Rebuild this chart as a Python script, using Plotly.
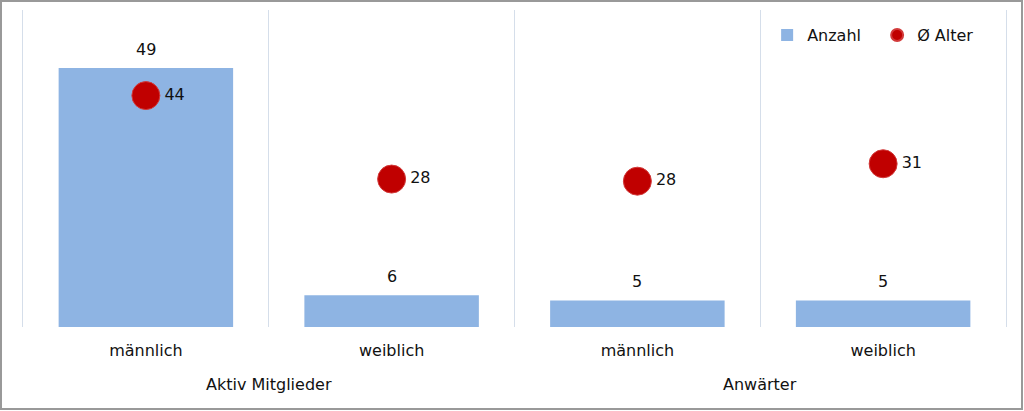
import plotly.graph_objects as go

groups = ["Aktiv Mitglieder", "Aktiv Mitglieder", "Anwärter", "Anwärter"]
categories = ["männlich", "weiblich", "männlich", "weiblich"]
anzahl = [49, 6, 5, 5]
alter = [43.8, 28.0, 27.6, 30.9]

FONT = "DejaVu Sans"
W, H = 1024, 411
ML, MR, MT, MB = 23, 18, 10, 84
PW, PH = W - ML - MR, H - MT - MB
GRID = "#D5DEEA"

keys = [f"{g} / {c}" for g, c in zip(groups, categories)]

fig = go.Figure()
fig.add_trace(go.Bar(
    x=keys, y=anzahl, name="Anzahl",
    marker=dict(color="#8EB4E3", line=dict(width=0)),
    yaxis="y",
))
fig.add_trace(go.Scatter(
    x=keys, y=alter, name="Ø Alter",
    mode="markers+text",
    marker=dict(color="#C00000", size=28, line=dict(color="#D23A3A", width=1)),
    text=[f"{v:.0f}" for v in alter], textposition="middle right",
    textfont=dict(family=FONT, size=16, color="#111111"),
    yaxis="y2",
))

annotations = []
for i, v in enumerate(anzahl):
    annotations.append(dict(
        x=i, y=v, xref="x", yref="y", text=str(v), showarrow=False,
        yanchor="middle", yshift=19,
        font=dict(family=FONT, size=16, color="#111111"),
    ))
# group labels centered under their categories
seen = []
for g in groups:
    if g not in seen:
        seen.append(g)
for g in seen:
    idx = [i for i, gg in enumerate(groups) if gg == g]
    annotations.append(dict(
        x=sum(idx) / len(idx), y=0, xref="x", yref="paper", text=g, showarrow=False,
        yanchor="middle", yshift=-57,
        font=dict(family=FONT, size=16, color="#111111"),
    ))

fig.update_layout(
    width=W, height=H,
    margin=dict(l=ML, r=MR, t=MT, b=MB),
    paper_bgcolor="white", plot_bgcolor="white",
    font=dict(family=FONT, size=16, color="#111111"),
    bargap=0.29,
    showlegend=True,
    legend=dict(orientation="h", x=0.757, y=0.921, xanchor="left", yanchor="middle",
                font=dict(family=FONT, size=16, color="#111111"),
                bgcolor="rgba(0,0,0,0)", itemwidth=30, entrywidth=65,
                itemsizing="constant"),
    xaxis=dict(type="category", showgrid=True, gridcolor=GRID, gridwidth=1,
               tickson="boundaries",
               showline=False, ticks="", ticklabelstandoff=12,
               tickvals=keys, ticktext=categories,
               tickfont=dict(family=FONT, size=16, color="#111111"), zeroline=False),
    yaxis=dict(range=[0, 60], visible=True, showticklabels=False, ticks="",
               showgrid=False, zeroline=False,
               showline=True, mirror=True, linecolor=GRID, linewidth=1),
    yaxis2=dict(range=[0, 60], visible=False, overlaying="y", side="right",
                showgrid=False, zeroline=False),
    annotations=annotations,
    shapes=[dict(type="rect", xref="paper", yref="paper",
                 x0=(1 - ML) / PW, x1=(1022 - ML) / PW,
                 y0=(H - MB - 409) / PH, y1=(H - MB - 1) / PH,
                 line=dict(color="#999999", width=2), fillcolor="rgba(0,0,0,0)",
                 layer="above")],
)

fig.write_html("out.html", config={"displayModeBar": False},
               post_script="document.body.style.margin='0';")
